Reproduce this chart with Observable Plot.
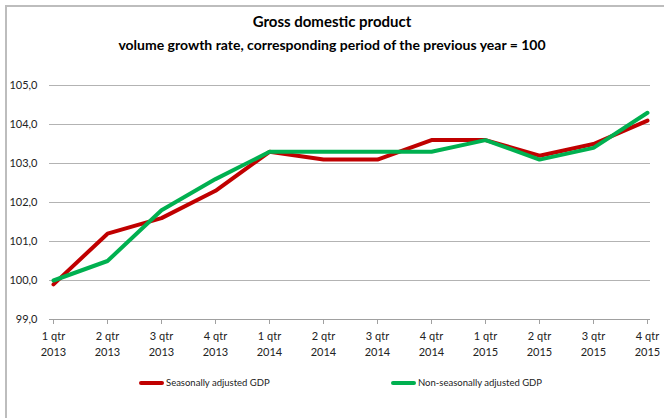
<!DOCTYPE html>
<html>
<head>
<meta charset="utf-8">
<script src="https://cdn.jsdelivr.net/npm/d3@7"></script>
<script src="https://cdn.jsdelivr.net/npm/@observablehq/plot@0.6"></script>
<style>
  html, body { margin: 0; padding: 0; background: #fff; }
  #wrap { position: relative; width: 664px; height: 418px; overflow: hidden; font-family: Lato, "Open Sans", sans-serif; color: #000; }
  #frame { position: absolute; left: 5px; top: 5px; width: 700px; height: 500px; border-top: 2px solid #bdbdbd; border-left: 2px solid #bdbdbd; }
  #title { position: absolute; top: 12px; left: 0; width: 664px; text-align: center; font-weight: bold; font-size: 15px; }
  #subtitle { position: absolute; top: 36px; left: 0; width: 664px; text-align: center; font-weight: bold; font-size: 14px; }
  #chart { position: absolute; top: 0; left: 0; }
  .leg { position: absolute; top: 377px; font-size: 9.5px; color: #222; display: flex; align-items: center; }
  .leg span.sw { display: inline-block; width: 25px; height: 4px; border-radius: 2px; margin-right: 2px; }
</style>
</head>
<body>
<div id="wrap">
  <div id="frame"></div>
  <div id="title">Gross domestic product</div>
  <div id="subtitle">volume growth rate, corresponding period of the previous year = 100</div>
  <div id="chart"></div>
  <div class="leg" style="left:139px"><span class="sw" style="background:#c00000"></span>Seasonally adjusted GDP</div>
  <div class="leg" style="left:391px"><span class="sw" style="background:#00b050"></span>Non-seasonally adjusted GDP</div>
</div>
<script>
const quarters = ["1 qtr","2 qtr","3 qtr","4 qtr","1 qtr","2 qtr","3 qtr","4 qtr","1 qtr","2 qtr","3 qtr","4 qtr"];
const years = ["2013","2013","2013","2013","2014","2014","2014","2014","2015","2015","2015","2015"];
const seasonal = [99.9, 101.2, 101.6, 102.3, 103.3, 103.1, 103.1, 103.6, 103.6, 103.2, 103.5, 104.1];
const nonSeasonal = [100.0, 100.5, 101.8, 102.6, 103.3, 103.3, 103.3, 103.3, 103.6, 103.1, 103.4, 104.3];
const yTicks = [99, 100, 101, 102, 103, 104, 105];

const labels = quarters.map((q, i) => q + "\n" + years[i]);
const rows = [];
labels.forEach((l, i) => rows.push({label: l, value: seasonal[i], series: "Seasonally adjusted GDP"}));
labels.forEach((l, i) => rows.push({label: l, value: nonSeasonal[i], series: "Non-seasonally adjusted GDP"}));

const chart = Plot.plot({
  width: 664,
  height: 360,
  marginLeft: 49,
  marginRight: 14,
  marginTop: 85,
  marginBottom: 41,
  style: {fontFamily: "Lato, 'Open Sans', sans-serif", fontSize: "11px", color: "#222", background: "transparent"},
  x: {type: "point", domain: labels, padding: 0},
  y: {domain: [99, 105]},
  marks: [
    Plot.gridY(yTicks, {stroke: "#b3b3b3", strokeOpacity: 1, strokeWidth: 1}),
    Plot.ruleY([99], {stroke: "#a0a0a0", strokeWidth: 1}),
    Plot.axisY(yTicks, {tickSize: 0, tickPadding: 12, tickFormat: d => d.toFixed(1).replace(".", ","), fontSize: 11, fill: "#222", label: null}),
    Plot.axisX({tickSize: 5, tickPadding: 4, stroke: "#a0a0a0", fontSize: 11, fill: "#222", lineHeight: 1.45, label: null}),
    Plot.line(rows.filter(d => d.series === "Seasonally adjusted GDP"), {x: "label", y: "value", stroke: "#c00000", strokeWidth: 4, strokeLinejoin: "miter"}),
    Plot.line(rows.filter(d => d.series === "Non-seasonally adjusted GDP"), {x: "label", y: "value", stroke: "#00b050", strokeWidth: 4, strokeLinejoin: "miter"})
  ]
});
document.getElementById("chart").appendChild(chart);
</script>
</body>
</html>
